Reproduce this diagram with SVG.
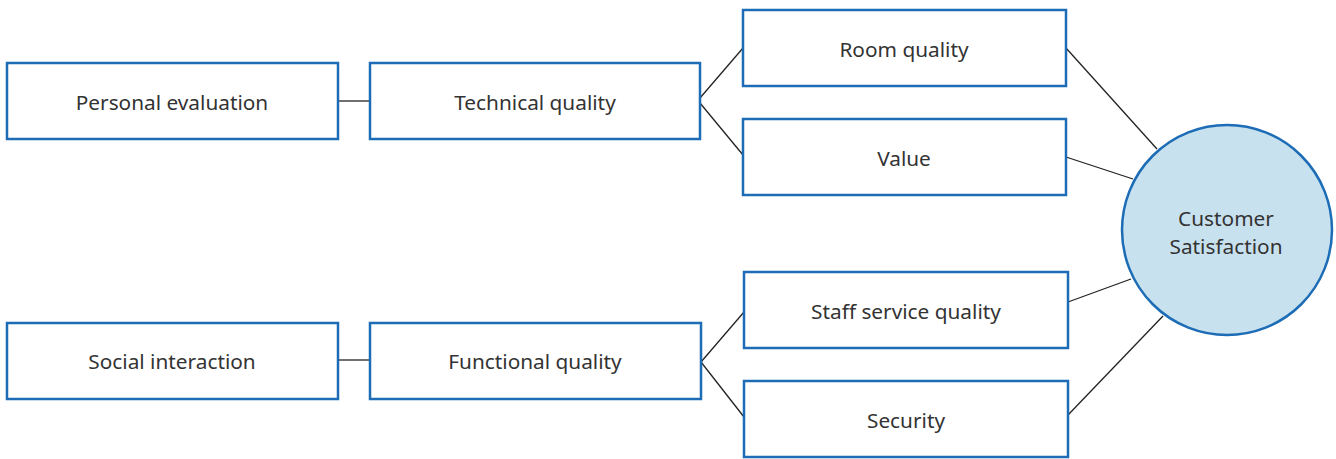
<svg xmlns="http://www.w3.org/2000/svg" width="1336" height="459" viewBox="0 0 1336 459">
<style>
.box{fill:#ffffff;stroke:#1c6cb6;stroke-width:2.5}
.circ{fill:#c8e1ef;stroke:#1c6cb6;stroke-width:2.5}
.lbl{font-family:"Noto Sans","Open Sans",sans-serif;font-size:20.8px;fill:#333333;text-anchor:middle;dominant-baseline:central}
.con{stroke:#222222;stroke-width:1.3;fill:none}
</style>
<rect width="1336" height="459" fill="#ffffff"/>
<g id="connectors">
<line class="con" x1="338" y1="101" x2="370" y2="101"/>
<line class="con" x1="338" y1="360" x2="370" y2="360"/>
<line class="con" x1="700" y1="98" x2="743" y2="48"/>
<line class="con" x1="700" y1="103" x2="743" y2="155"/>
<line class="con" x1="701" y1="362" x2="744" y2="312"/>
<line class="con" x1="701" y1="362" x2="744" y2="417"/>
<line class="con" x1="1066" y1="48" x2="1157" y2="149"/>
<line class="con" x1="1066" y1="157" x2="1133" y2="179"/>
<line class="con" x1="1068" y1="302" x2="1131" y2="279"/>
<line class="con" x1="1068" y1="415" x2="1163" y2="316"/>
</g>
<g id="personal-evaluation">
<rect class="box" x="7" y="63" width="331" height="76"/>
<text class="lbl" x="172" y="102">Personal evaluation</text>
</g>
<g id="technical-quality">
<rect class="box" x="370" y="63" width="330" height="76"/>
<text class="lbl" x="535" y="102">Technical quality</text>
</g>
<g id="room-quality">
<rect class="box" x="743" y="10" width="323" height="76"/>
<text class="lbl" x="904" y="49">Room quality</text>
</g>
<g id="value">
<rect class="box" x="743" y="119" width="323" height="76"/>
<text class="lbl" x="904" y="158">Value</text>
</g>
<g id="social-interaction">
<rect class="box" x="7" y="323" width="331" height="76"/>
<text class="lbl" x="172" y="361">Social interaction</text>
</g>
<g id="functional-quality">
<rect class="box" x="370" y="323" width="331" height="76"/>
<text class="lbl" x="535" y="361">Functional quality</text>
</g>
<g id="staff-service-quality">
<rect class="box" x="744" y="272" width="324" height="76"/>
<text class="lbl" x="906" y="311">Staff service quality</text>
</g>
<g id="security">
<rect class="box" x="744" y="381" width="324" height="76"/>
<text class="lbl" x="906" y="420">Security</text>
</g>
<g id="customer-satisfaction">
<circle class="circ" cx="1227" cy="230" r="105"/>
<text class="lbl" x="1226" y="218">Customer</text>
<text class="lbl" x="1226" y="246">Satisfaction</text>
</g>
</svg>
